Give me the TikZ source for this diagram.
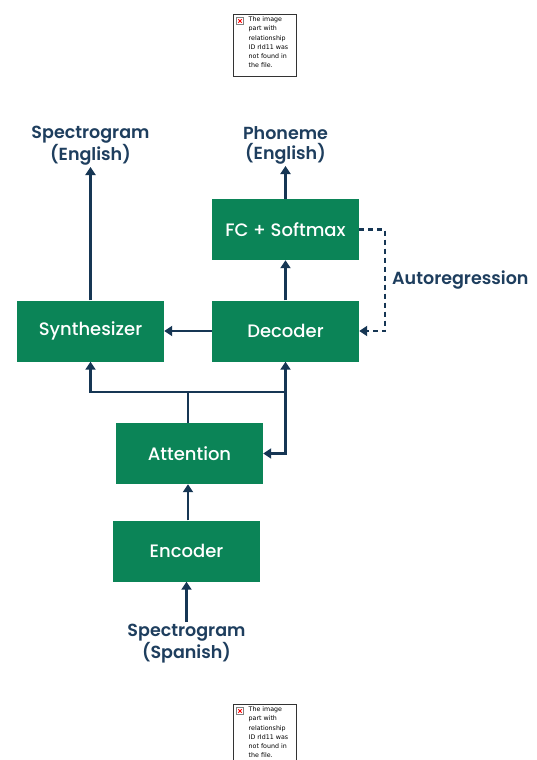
\documentclass[tikz,border=0pt]{standalone}
\usepackage{fontspec}
\setmainfont{Poppins}[BoldFont={Poppins SemiBold}]
\newfontfamily\medfont{Poppins Medium}
\newfontfamily\phfont{DejaVu Sans}
\usetikzlibrary{arrows.meta,calc}
\definecolor{boxgreen}{RGB}{11,132,87}
\definecolor{navy}{RGB}{22,54,84}
\definecolor{labnavy}{RGB}{30,62,94}
\tikzset{
  blockbox/.style={fill=boxgreen, draw=none, minimum width=147pt, minimum height=61pt,
    text=white, font=\medfont\fontsize{18}{20}\selectfont, inner sep=0pt},
  lab/.style={text=labnavy, font=\bfseries\fontsize{17.5}{20}\selectfont, align=center, inner sep=2pt},
  arr/.style={draw=navy, line width=2.4pt, -{Triangle[width=10pt,length=8pt]}},
  dasharr/.style={draw=navy, line width=2.4pt, dash pattern=on 5pt off 4pt, -{Triangle[width=10pt,length=8pt]}},
  phbox/.style={draw=black!80, line width=0.7pt, fill=white},
  phtext/.style={font=\phfont\fontsize{6.3}{9.3}\selectfont, align=left, inner sep=0pt, anchor=north west, text=black}
}
\begin{document}
\begin{tikzpicture}[x=1pt,y=-1pt]
\fill[white] (0,0) rectangle (536,760);
\clip (0,0) rectangle (536,760);
\useasboundingbox (0,0) rectangle (536,760);

% placeholders
\draw[phbox] (233,14) rectangle (296,76);
\draw[draw=black!50, line width=0.4pt, fill=white] (236.5,17.5) rectangle (243.5,24.5);
\draw[red, line width=0.9pt] (238.3,19.3) -- (241.7,22.7) (241.7,19.3) -- (238.3,22.7);
\node[phtext] (ph1) at (248.5,16.5) {The image\\part with\\relationship\\ID rId11 was\\not found in\\the file.};

\draw[phbox] (233,704) rectangle (296,780);
\draw[draw=black!50, line width=0.4pt, fill=white] (236.5,707.5) rectangle (243.5,714.5);
\draw[red, line width=0.9pt] (238.3,709.3) -- (241.7,712.7) (241.7,709.3) -- (238.3,712.7);
\node[phtext] (ph2) at (248.5,706.5) {The image\\part with\\relationship\\ID rId11 was\\not found in\\the file.};

% blocks
\node[blockbox] (fc)  at (285.5,229.5) {FC + Softmax};
\node[blockbox] (dec) at (285.5,331)   {Decoder};
\node[blockbox] (syn) at (90.5,331)    {Synthesizer};
\node[blockbox] (att) at (189.5,453.5) {Attention};
\node[blockbox] (enc) at (186.5,551)   {Encoder};

% labels
\node[lab, anchor=south] (spen) at (90.5,167) {Spectrogram\\(English)};
\node[lab, anchor=south] (phon) at (285.5,166) {Phoneme\\(English)};
\node[lab, anchor=north] (spes) at (186.5,622) {Spectrogram\\(Spanish)};
\node[lab, anchor=west] (auto) at (390,280) {Autoregression};

% connectors
\draw[arr] (syn.north) -- (spen.south);
\draw[arr] (fc.north) -- (phon.south);
\draw[arr] (dec.north) -- (fc.south);
\draw[arr] (dec.west) -- (syn.east);
\draw[dasharr] (fc.east) -- ++(26,0) |- (dec.east);

\coordinate (j) at ($(att.north)+(-1.5,-31)$);
\coordinate (k) at (dec.south |- j);
\draw[arr] ($(att.north)+(-1.5,0)$) -- (j) -| (syn.south);
\draw[arr] (j) -- (k) -- (dec.south);
\draw[arr] (k) |- (att.east);
\draw[arr] ($(enc.north)+(1.5,0)$) -- ($(att.south)+(-1.5,0)$);
\draw[arr] (spes.north) -- (enc.south);
\end{tikzpicture}
\end{document}
